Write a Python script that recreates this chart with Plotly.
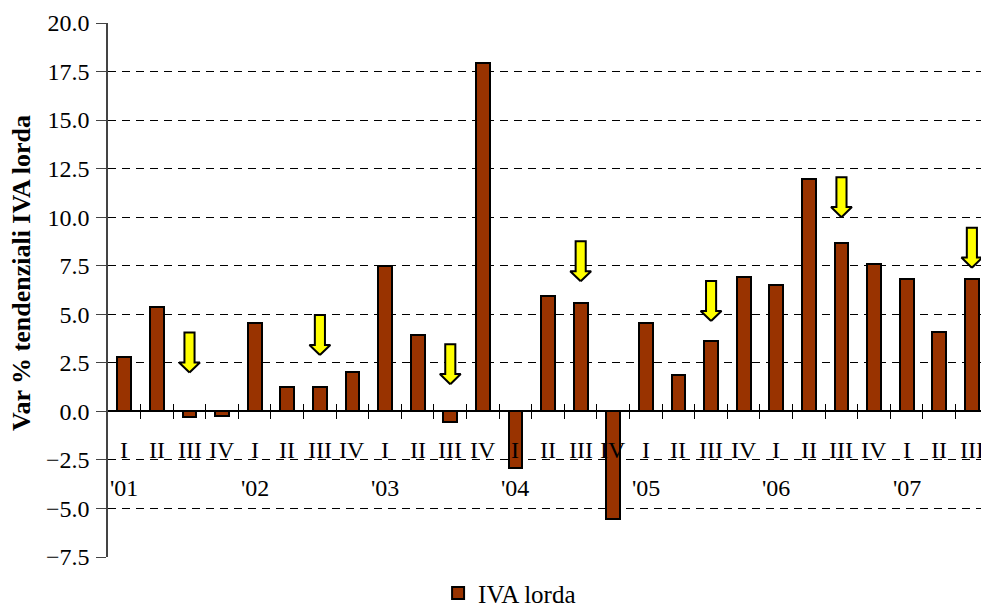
import numpy as np
import plotly.graph_objects as go

# quarterly data, '01 I .. '07 III
quarters = ["I", "II", "III", "IV"] * 6 + ["I", "II", "III"]
years = ["'01", "'02", "'03", "'04", "'05", "'06", "'07"]
iva_lorda = [2.8, 5.4, -0.3, -0.25,
             4.55, 1.25, 1.25, 2.05,
             7.5, 3.95, -0.55, 17.95,
             -2.9, 5.95, 5.6, -5.55,
             4.55, 1.85, 3.6, 6.9,
             6.5, 11.95, 8.65, 7.6,
             6.8, 4.1, 6.8]
# yellow arrows above every third quarter (tip value)
arrow_idx = [2, 6, 10, 14, 18, 22, 26]
arrow_tip = [2.0, 2.9, 1.4, 6.7, 4.65, 10.0, 7.4]

FONT = "Liberation Serif, Times New Roman, serif"
n = len(iva_lorda)
x = np.arange(n)

fig = go.Figure()
fig.add_trace(go.Bar(
    x=x, y=iva_lorda, name="IVA lorda", width=0.42,
    marker=dict(color="#993300", line=dict(color="black", width=2)),
))

# block arrows built around each tip point
ax, ay = [], []
sw, hw, hl, tl = 0.155, 0.32, 0.52, 2.06
for i, t in zip(arrow_idx, arrow_tip):
    ax += [i, i - hw, i - sw, i - sw, i + sw, i + sw, i + hw, i, None]
    ay += [t, t + hl, t + hl, t + tl, t + tl, t + hl, t + hl, t, None]
fig.add_trace(go.Scatter(
    x=ax, y=ay, mode="lines", fill="toself", fillcolor="#ffff00",
    line=dict(color="black", width=2), showlegend=False, hoverinfo="skip",
))

# quarter labels below the zero line
for i, q in enumerate(quarters):
    fig.add_annotation(x=i, y=-2.0, text=q, showarrow=False,
                       xanchor="center", yanchor="middle",
                       font=dict(family=FONT, size=24, color="black"))

# year labels under the first quarter of each year
for k, yr in enumerate(years):
    fig.add_annotation(x=4 * k, y=-3.95, text=yr, showarrow=False,
                       xanchor="center", yanchor="middle",
                       font=dict(family=FONT, size=24, color="black"))

fig.add_annotation(x=-0.0985, y=0.532, xref="paper", yref="paper",
                   text="<b>Var % tendenziali IVA lorda</b>",
                   showarrow=False, textangle=-90, xanchor="center", yanchor="middle",
                   font=dict(family=FONT, size=26, color="black"))

pos0 = 7.5 / 27.5
fig.update_layout(
    width=981, height=608,
    margin=dict(l=108, r=0, t=23, b=51, autoexpand=False),
    plot_bgcolor="white", paper_bgcolor="white",
    font=dict(family=FONT, size=24, color="black"),
    bargap=0,
    showlegend=True,
    legend=dict(orientation="h", x=0.46, xanchor="center", y=-0.068, yanchor="middle",
                font=dict(family=FONT, size=25), itemwidth=30),
    # boundary ticks crossing the zero line
    xaxis=dict(range=[-0.5, 26.28], anchor="free", position=pos0 + 8 / 534, automargin=False,
               tickvals=list(np.arange(0.5, n - 1)), ticks="outside", ticklen=15,
               tickcolor="black", tickwidth=1, showticklabels=False,
               showline=False, showgrid=False, zeroline=False),
    yaxis=dict(range=[-7.5, 20], dtick=2.5, tick0=0, tickformat=".1f", automargin=False,
               showgrid=True, gridcolor="black", gridwidth=1, griddash="8px,6px",
               zeroline=True, zerolinecolor="black", zerolinewidth=1.5,
               showline=True, linecolor="#444", linewidth=1.5,
               ticks="outside", ticklen=10, tickcolor="#444", ticklabelstandoff=2,
               tickfont=dict(family=FONT, size=24)),
)

# drop the default page margin so the figure fills the window exactly
fig.write_html("out.html", post_script="document.body.style.margin='0';",
               config={"displayModeBar": False})
